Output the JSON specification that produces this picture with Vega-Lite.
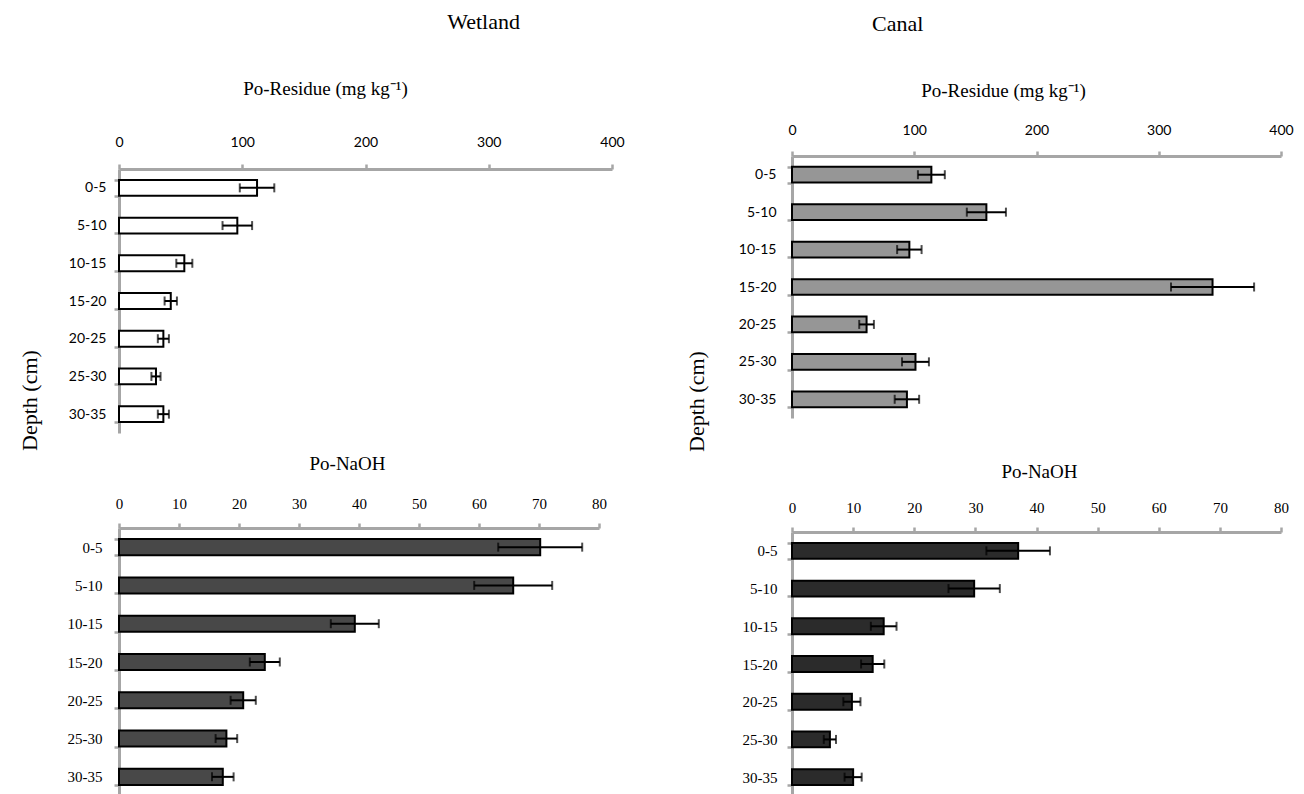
{
  "$schema": "https://vega.github.io/schema/vega-lite/v6.json",
  "background": "white",
  "padding": {"left": 19, "top": 11, "right": 5, "bottom": 0},
  "data": {
    "values": [
      {"site": "Wetland", "fraction": "Po-Residue", "depth": "0-5", "value": 112, "err": 14},
      {"site": "Wetland", "fraction": "Po-Residue", "depth": "5-10", "value": 96, "err": 12},
      {"site": "Wetland", "fraction": "Po-Residue", "depth": "10-15", "value": 53, "err": 6.5},
      {"site": "Wetland", "fraction": "Po-Residue", "depth": "15-20", "value": 42, "err": 5},
      {"site": "Wetland", "fraction": "Po-Residue", "depth": "20-25", "value": 36, "err": 4.5},
      {"site": "Wetland", "fraction": "Po-Residue", "depth": "25-30", "value": 30, "err": 3.7},
      {"site": "Wetland", "fraction": "Po-Residue", "depth": "30-35", "value": 36, "err": 4.5},
      {"site": "Canal", "fraction": "Po-Residue", "depth": "0-5", "value": 114, "err": 11},
      {"site": "Canal", "fraction": "Po-Residue", "depth": "5-10", "value": 159, "err": 16},
      {"site": "Canal", "fraction": "Po-Residue", "depth": "10-15", "value": 96, "err": 10},
      {"site": "Canal", "fraction": "Po-Residue", "depth": "15-20", "value": 344, "err": 34},
      {"site": "Canal", "fraction": "Po-Residue", "depth": "20-25", "value": 61, "err": 6},
      {"site": "Canal", "fraction": "Po-Residue", "depth": "25-30", "value": 101, "err": 11},
      {"site": "Canal", "fraction": "Po-Residue", "depth": "30-35", "value": 94, "err": 10},
      {"site": "Wetland", "fraction": "Po-NaOH", "depth": "0-5", "value": 70.2, "err": 7},
      {"site": "Wetland", "fraction": "Po-NaOH", "depth": "5-10", "value": 65.7, "err": 6.5},
      {"site": "Wetland", "fraction": "Po-NaOH", "depth": "10-15", "value": 39.3, "err": 4},
      {"site": "Wetland", "fraction": "Po-NaOH", "depth": "15-20", "value": 24.3, "err": 2.5},
      {"site": "Wetland", "fraction": "Po-NaOH", "depth": "20-25", "value": 20.7, "err": 2.1},
      {"site": "Wetland", "fraction": "Po-NaOH", "depth": "25-30", "value": 17.9, "err": 1.8},
      {"site": "Wetland", "fraction": "Po-NaOH", "depth": "30-35", "value": 17.3, "err": 1.8},
      {"site": "Canal", "fraction": "Po-NaOH", "depth": "0-5", "value": 37.0, "err": 5.2},
      {"site": "Canal", "fraction": "Po-NaOH", "depth": "5-10", "value": 29.8, "err": 4.2},
      {"site": "Canal", "fraction": "Po-NaOH", "depth": "10-15", "value": 15.0, "err": 2.1},
      {"site": "Canal", "fraction": "Po-NaOH", "depth": "15-20", "value": 13.2, "err": 1.9},
      {"site": "Canal", "fraction": "Po-NaOH", "depth": "20-25", "value": 9.8, "err": 1.4},
      {"site": "Canal", "fraction": "Po-NaOH", "depth": "25-30", "value": 6.2, "err": 1.0},
      {"site": "Canal", "fraction": "Po-NaOH", "depth": "30-35", "value": 10.0, "err": 1.4}
    ]
  },
  "spacing": 61,
  "hconcat": [
    {
      "title": {"text": "Wetland", "anchor": "middle", "font": "Liberation Serif", "fontSize": 22, "fontWeight": "normal", "offset": 45, "dx": 162},
      "vconcat": [
        {
          "title": {"text": "Depth (cm)", "orient": "left", "anchor": "middle", "font": "Liberation Serif", "fontSize": 22, "fontWeight": "normal", "offset": 25, "dx": 37},
          "bounds": "flush",
          "spacing": 95,
          "vconcat": [
            {
              "width": 493,
              "height": 277,
              "transform": [{"filter": {"and": [{"field": "site", "equal": "Wetland"}, {"field": "fraction", "equal": "Po-Residue"}]}}],
              "encoding": {
                "y": {"field": "depth", "type": "nominal", "sort": ["0-5", "5-10", "10-15", "15-20", "20-25", "25-30", "30-35"],
                      "scale": {"paddingInner": 0.58, "paddingOuter": 0.29, "range": [13, 277]},
                      "axis": {"title": null, "tickBand": "extent", "labelFont": "Lato", "labelFontSize": 14, "labelPadding": 8}},
                "x": {"field": "value", "type": "quantitative", "scale": {"domain": [0, 400], "nice": false},
                      "axis": {"title": "Po-Residue (mg kg⁻¹)", "titleX": 206, "titleAlign": "center", "titlePadding": 37, "offset": -13,
                               "orient": "top", "values": [0, 100, 200, 300, 400], "labelFont": "Lato", "labelFontSize": 14, "labelPadding": 15, "labelFlush": false}}
              },
              "layer": [
                {"mark": {"type": "bar", "fill": "#ffffff", "stroke": "#000000", "strokeWidth": 2}},
                {"mark": {"type": "errorbar", "color": "#000000", "ticks": {"size": 9, "thickness": 2, "color": "#000000"}, "rule": {"strokeWidth": 2, "color": "#000000"}},
                 "encoding": {"xError": {"field": "err"}}}
              ]
            },
            {
              "width": 480,
              "height": 268,
              "transform": [{"filter": {"and": [{"field": "site", "equal": "Wetland"}, {"field": "fraction", "equal": "Po-NaOH"}]}}],
              "encoding": {
                "y": {"field": "depth", "type": "nominal", "sort": ["0-5", "5-10", "10-15", "15-20", "20-25", "25-30", "30-35"],
                      "scale": {"paddingInner": 0.58, "paddingOuter": 0.29},
                      "axis": {"title": null, "tickBand": "extent", "labelFont": "Liberation Serif", "labelFontSize": 15, "labelPadding": 12}},
                "x": {"field": "value", "type": "quantitative", "scale": {"domain": [0, 80], "nice": false},
                      "axis": {"title": "Po-NaOH", "titleX": 228, "titleAlign": "center", "titlePadding": 23,
                               "orient": "top", "values": [0, 10, 20, 30, 40, 50, 60, 70, 80], "labelFont": "Liberation Serif", "labelFontSize": 15, "labelPadding": 12, "labelFlush": false}}
              },
              "layer": [
                {"mark": {"type": "bar", "fill": "#484848", "stroke": "#000000", "strokeWidth": 2}},
                {"mark": {"type": "errorbar", "color": "#000000", "ticks": {"size": 9, "thickness": 2, "color": "#000000"}, "rule": {"strokeWidth": 2, "color": "#000000"}},
                 "encoding": {"xError": {"field": "err"}}}
              ]
            }
          ]
        }
      ]
    },
    {
      "title": {"text": "Canal", "anchor": "middle", "font": "Liberation Serif", "fontSize": 22, "fontWeight": "normal", "offset": 45, "dx": -92},
      "vconcat": [
        {
          "title": {"text": "Depth (cm)", "orient": "left", "anchor": "middle", "font": "Liberation Serif", "fontSize": 22, "fontWeight": "normal", "offset": 29, "dx": 37},
          "bounds": "flush",
          "spacing": 114,
          "vconcat": [
            {
              "width": 489,
              "height": 262,
              "transform": [{"filter": {"and": [{"field": "site", "equal": "Canal"}, {"field": "fraction", "equal": "Po-Residue"}]}}],
              "encoding": {
                "y": {"field": "depth", "type": "nominal", "sort": ["0-5", "5-10", "10-15", "15-20", "20-25", "25-30", "30-35"],
                      "scale": {"paddingInner": 0.58, "paddingOuter": 0.29},
                      "axis": {"title": null, "tickBand": "extent", "labelFont": "Lato", "labelFontSize": 14, "labelPadding": 11}},
                "x": {"field": "value", "type": "quantitative", "scale": {"domain": [0, 400], "nice": false},
                      "axis": {"title": "Po-Residue (mg kg⁻¹)", "titleX": 211, "titleAlign": "center", "titlePadding": 23,
                               "orient": "top", "values": [0, 100, 200, 300, 400], "labelFont": "Lato", "labelFontSize": 14, "labelPadding": 14, "labelFlush": false}}
              },
              "layer": [
                {"mark": {"type": "bar", "fill": "#969696", "stroke": "#000000", "strokeWidth": 2}},
                {"mark": {"type": "errorbar", "color": "#000000", "ticks": {"size": 9, "thickness": 2, "color": "#000000"}, "rule": {"strokeWidth": 2, "color": "#000000"}},
                 "encoding": {"xError": {"field": "err"}}}
              ]
            },
            {
              "width": 489,
              "height": 264,
              "transform": [{"filter": {"and": [{"field": "site", "equal": "Canal"}, {"field": "fraction", "equal": "Po-NaOH"}]}}],
              "encoding": {
                "y": {"field": "depth", "type": "nominal", "sort": ["0-5", "5-10", "10-15", "15-20", "20-25", "25-30", "30-35"],
                      "scale": {"paddingInner": 0.58, "paddingOuter": 0.29},
                      "axis": {"title": null, "tickBand": "extent", "labelFont": "Liberation Serif", "labelFontSize": 15, "labelPadding": 10}},
                "x": {"field": "value", "type": "quantitative", "scale": {"domain": [0, 80], "nice": false},
                      "axis": {"title": "Po-NaOH", "titleX": 247, "titleAlign": "center", "titlePadding": 19,
                               "orient": "top", "values": [0, 10, 20, 30, 40, 50, 60, 70, 80], "labelFont": "Liberation Serif", "labelFontSize": 15, "labelPadding": 12, "labelFlush": false}}
              },
              "layer": [
                {"mark": {"type": "bar", "fill": "#2b2b2b", "stroke": "#000000", "strokeWidth": 2}},
                {"mark": {"type": "errorbar", "color": "#000000", "ticks": {"size": 9, "thickness": 2, "color": "#000000"}, "rule": {"strokeWidth": 2, "color": "#000000"}},
                 "encoding": {"xError": {"field": "err"}}}
              ]
            }
          ]
        }
      ]
    }
  ],
  "config": {
    "view": {"stroke": null},
    "axis": {"grid": false, "domainColor": "#a6a6a6", "domainWidth": 3, "tickColor": "#a6a6a6", "tickWidth": 2.5, "tickSize": 5,
             "labelColor": "#000000", "titleColor": "#000000", "titleFont": "Liberation Serif", "titleFontSize": 19, "titleFontWeight": "normal"},
    "title": {"color": "#000000"}
  }
}
